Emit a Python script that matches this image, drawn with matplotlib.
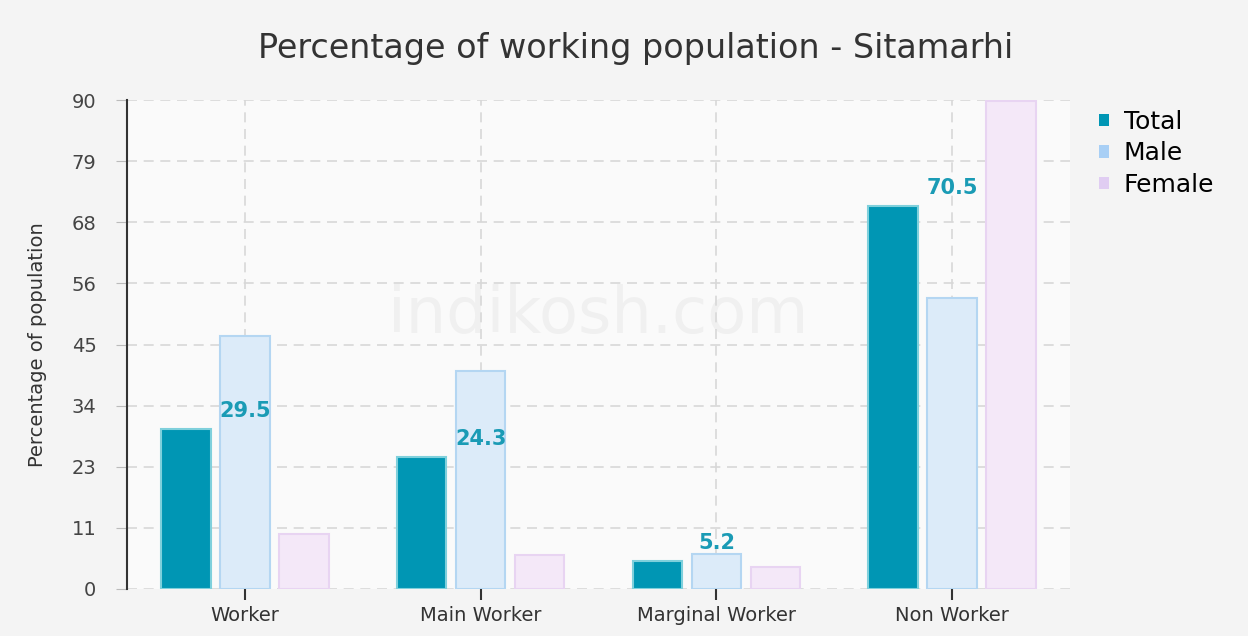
import numpy as np
import matplotlib.pyplot as plt

plt.rcParams["font.family"] = "DejaVu Sans"

categories = ['Worker', 'Main Worker', 'Marginal Worker', 'Non Worker']
total = [29.5, 24.3, 5.2, 70.5]
male = [46.5, 40.1, 6.4, 53.5]
female = [10.2, 6.2, 4.0, 89.8]
yticks = [0, 11.25, 22.5, 33.75, 45, 56.25, 67.5, 78.75, 90]
ytick_labels = ['0', '11', '23', '34', '45', '56', '68', '79', '90']

x = np.arange(len(categories))
w = 0.21
step = 0.25

fig = plt.figure(figsize=(12.48, 6.36), dpi=100)
fig.patch.set_facecolor("#f4f4f4")
ax = fig.add_axes([127 / 1248, 1 - 589 / 636, 943 / 1248, 489 / 636])
ax.set_facecolor("#fafafa")

ax.bar(x - step, total, w, color="#0096b4", edgecolor="#7fd0dc", linewidth=1.5, label="Total", zorder=3)
ax.bar(x, male, w, color="#dcebf9", edgecolor="#b4d6f2", linewidth=1.5, label="Male", zorder=3)
ax.bar(x + step, female, w, color="#f4e8f8", edgecolor="#e8d4f2", linewidth=1.5, label="Female", zorder=3)

for xi, v in zip(x, total):
    ax.text(xi, v + 1.5, f"{v}", ha="center", va="bottom", color="#1a9bb5",
            fontsize=15, fontweight="bold", zorder=4)

ax.text(0.5, 0.56, "indikosh.com", transform=ax.transAxes, ha="center", va="center",
        fontsize=46, color="#f0f0f0", zorder=1)

ax.set_xlim(-0.5, 3.5)
ax.set_ylim(0, 90)
ax.set_yticks(yticks)
ax.set_yticklabels(ytick_labels, fontsize=14, color="#444444")
ax.set_xticks(x)
ax.set_xticklabels(categories, fontsize=14, color="#333333")
ax.grid(True, color="#d8d8d8", linestyle=(0, (6, 4)), linewidth=1.2, zorder=0)
ax.tick_params(axis="y", length=8, color="#bbbbbb", pad=14)
ax.tick_params(axis="x", length=8, width=1.5, color="#333333", pad=4)
for s in ["top", "right", "bottom"]:
    ax.spines[s].set_visible(False)
ax.spines["left"].set_color("#333333")
ax.spines["left"].set_linewidth(1.5)
ax.set_ylabel("Percentage of population", fontsize=14, color="#333333")
ax.yaxis.set_label_coords(-0.085, 0.5)

fig.text(0.509, 0.923, "Percentage of working population - Sitamarhi", ha="center", va="center",
         fontsize=24, color="#333333")

leg = ax.legend(loc="upper left", bbox_to_anchor=(1.02, 1.0), frameon=False, fontsize=18,
                handlelength=0.4, handleheight=0.4, handletextpad=0.6, labelspacing=0.3,
                borderaxespad=0)
for h in leg.legend_handles:
    h.set_edgecolor("none")
leg.legend_handles[1].set_facecolor("#a8cff5")
leg.legend_handles[2].set_facecolor("#e0cdf2")

fig.savefig("out.png", dpi=100, facecolor=fig.get_facecolor())
